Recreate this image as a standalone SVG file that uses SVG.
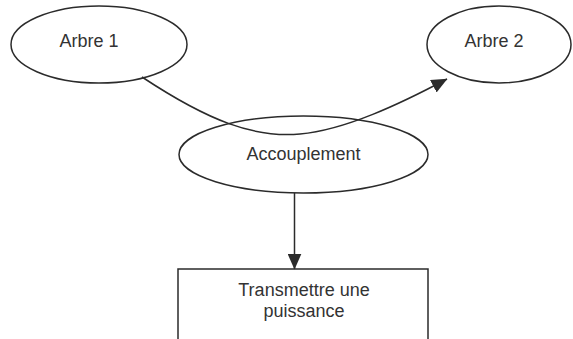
<svg xmlns="http://www.w3.org/2000/svg" width="573" height="339" viewBox="0 0 573 339">
  <style>
    .shape { fill: #ffffff; stroke: #2b2b2b; stroke-width: 1.5; }
    .edge { fill: none; stroke: #2b2b2b; stroke-width: 1.5; }
    .label { font-family: "Liberation Sans", Arial, sans-serif; font-size: 18px; fill: #333333; }
  </style>
  <defs>
    <marker id="arrow" viewBox="0 0 16 14" refX="15.5" refY="7" markerWidth="16" markerHeight="14" markerUnits="userSpaceOnUse" orient="auto">
      <path d="M0,0 L16,7 L0,14 Z" fill="#2b2b2b"/>
    </marker>
  </defs>

  <rect width="573" height="339" fill="#ffffff"/>

  <g id="node-arbre1">
    <ellipse class="shape" cx="99" cy="44.5" rx="88" ry="38.5"/>
    <text class="label" x="89" y="47" text-anchor="middle">Arbre 1</text>
  </g>

  <g id="node-arbre2">
    <ellipse class="shape" cx="499" cy="44.5" rx="72" ry="38.5"/>
    <text class="label" x="494" y="47" text-anchor="middle">Arbre 2</text>
  </g>

  <g id="node-accouplement">
    <ellipse class="shape" cx="303.5" cy="154.5" rx="124.5" ry="38.5"/>
    <text class="label" x="303.5" y="160" text-anchor="middle">Accouplement</text>
  </g>

  <g id="node-transmettre">
    <path class="shape" d="M178,341 L178,269 L428,269 L428,341"/>
    <text class="label" x="304" y="296" text-anchor="middle">Transmettre une</text>
    <text class="label" x="304" y="317" text-anchor="middle">puissance</text>
  </g>

  <g id="connectors">
    <path class="edge" d="M142,77 C210,122 255,138 300,134 C345,130 400,104 447,79" marker-end="url(#arrow)"/>
    <path class="edge" d="M294.5,193 L294.5,269" marker-end="url(#arrow)"/>
  </g>
</svg>
